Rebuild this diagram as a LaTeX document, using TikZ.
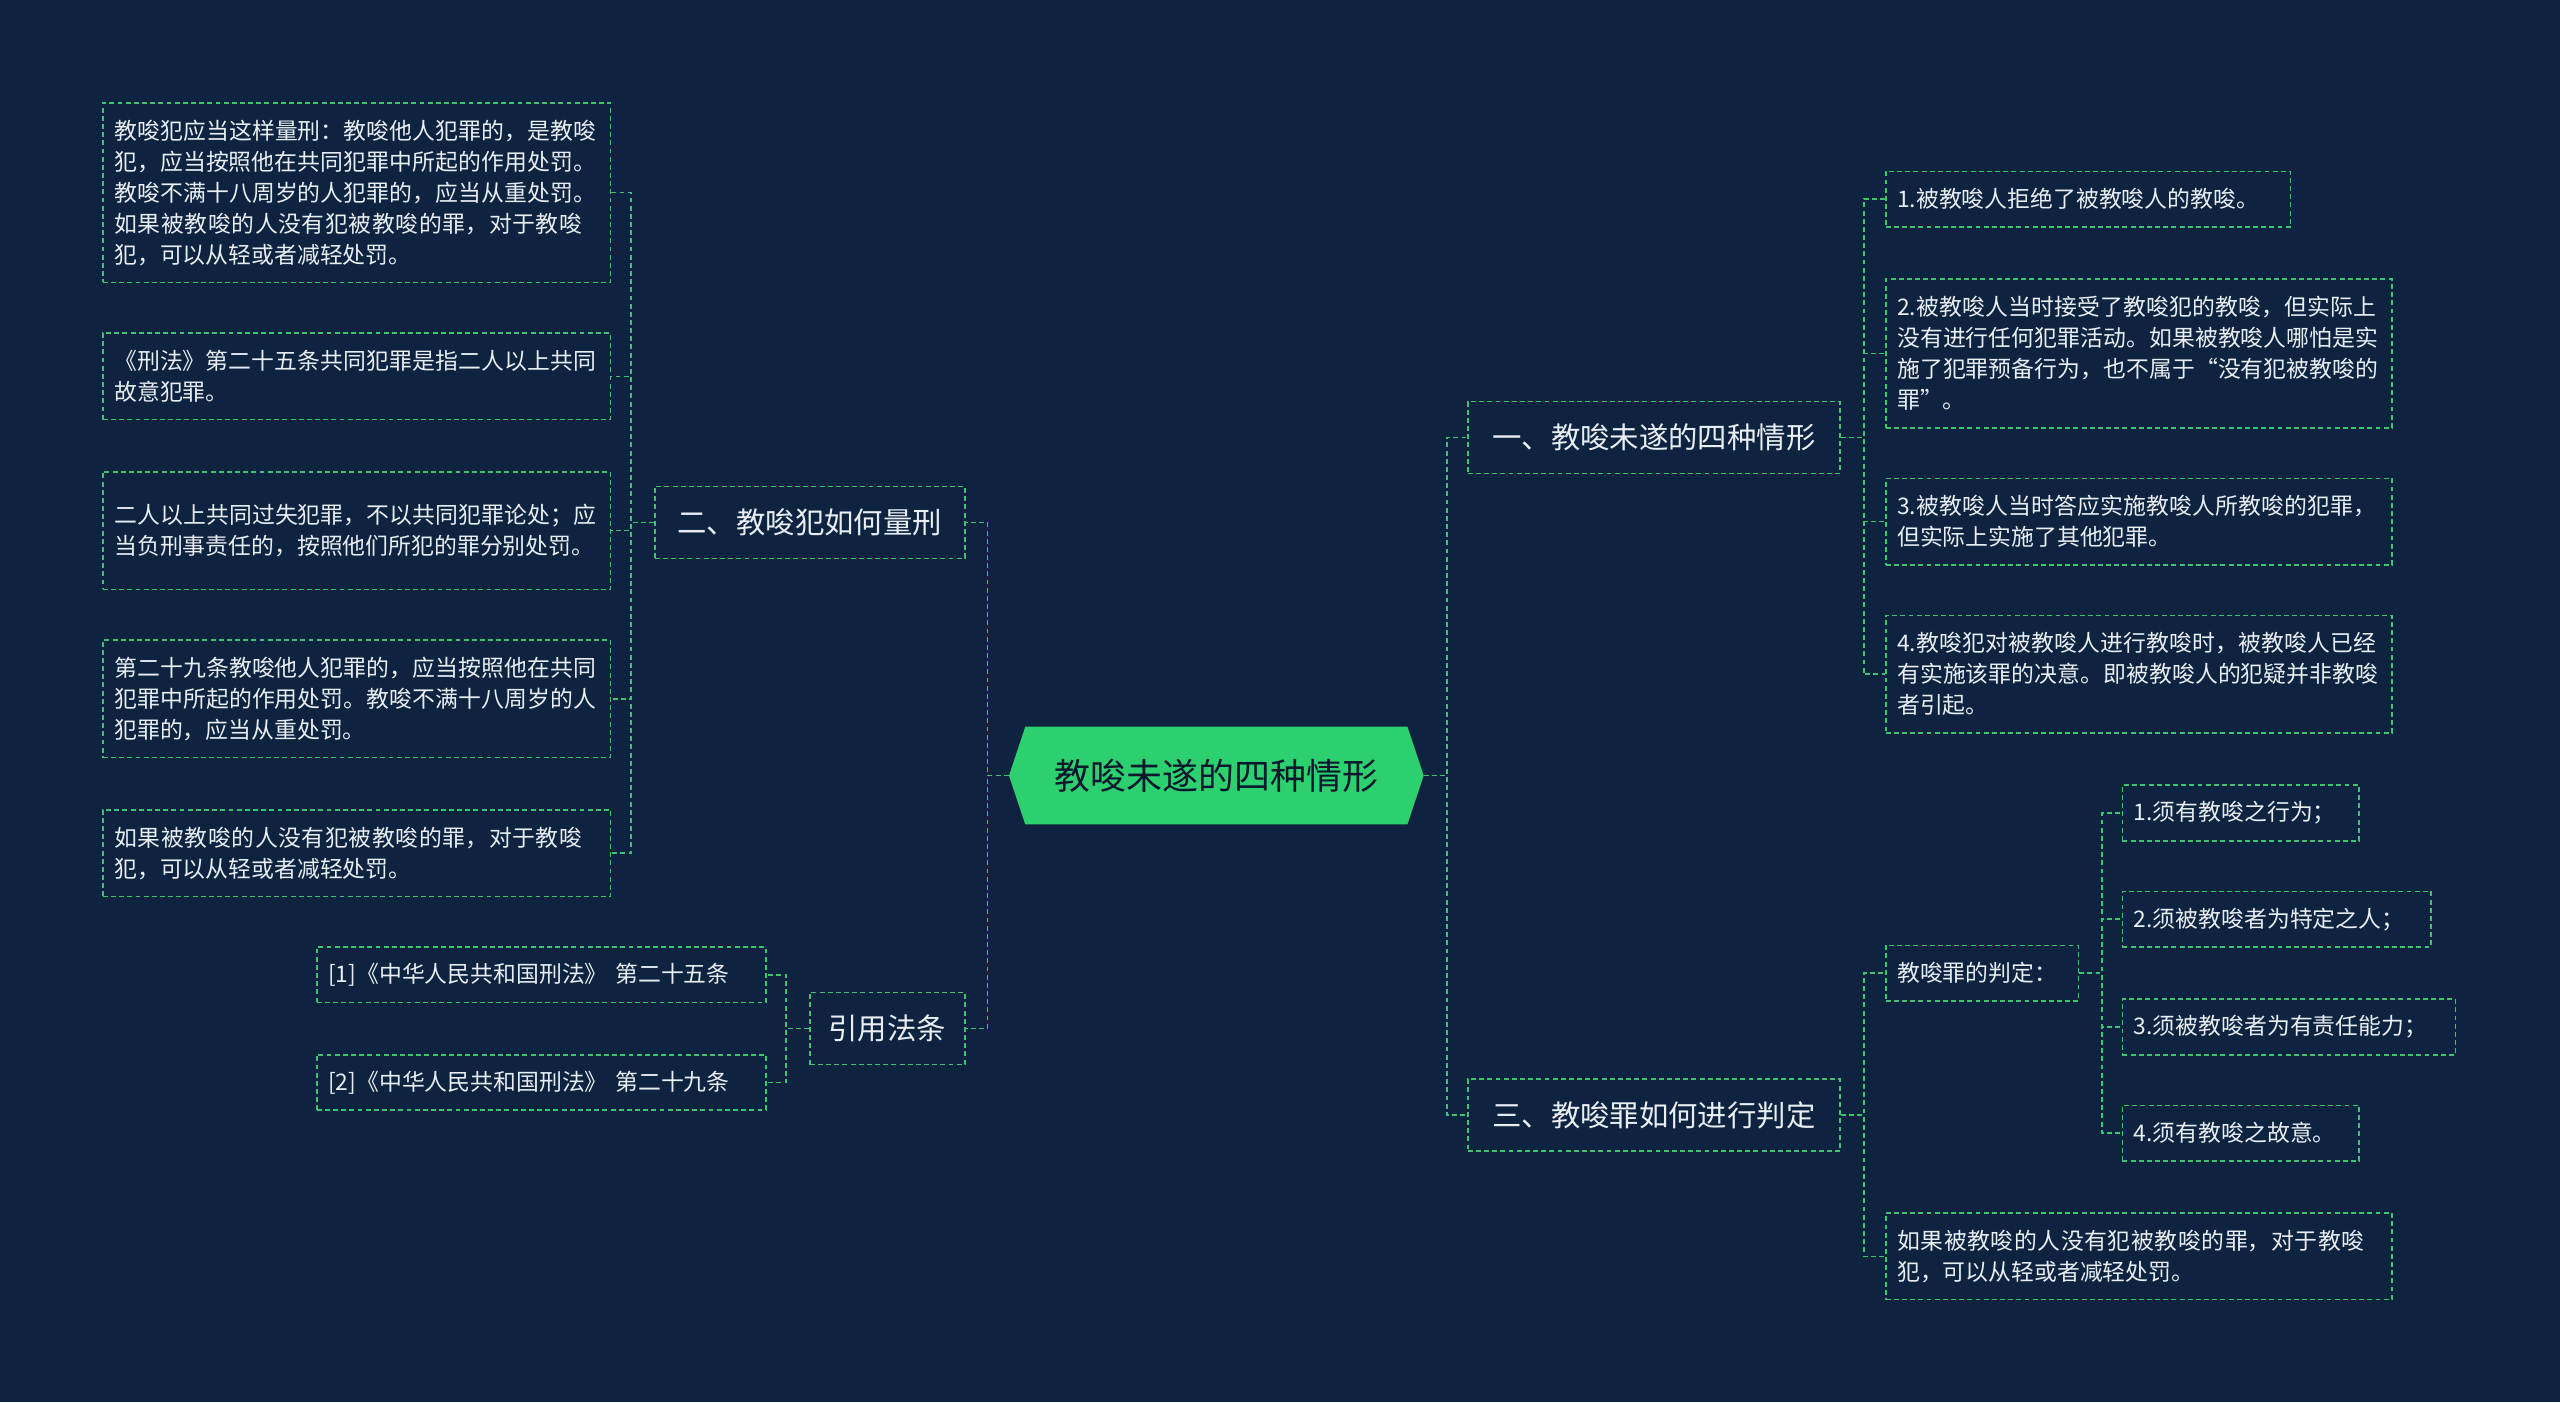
\documentclass[tikz,border=0pt]{standalone}
\usepackage{fontspec}
\setmainfont{Noto Sans CJK SC}
\XeTeXlinebreaklocale "zh"
\XeTeXlinebreakskip=0pt plus 1pt
\begin{document}
\begin{tikzpicture}[x=1pt,y=-1pt,
  line/.style={draw=lgreen,dashed,line width=1pt,dash pattern=on 3pt off 2pt},
  box/.style={line,text=txt,inner sep=0pt,align=left},
  leaf/.style={box,font=\fontsize{14}{19}\selectfont},
  mid/.style={box,font=\fontsize{18}{22}\selectfont,align=center}]
\definecolor{bg}{HTML}{0E2340}
\definecolor{lgreen}{HTML}{3CC46E}
\definecolor{rootg}{HTML}{2DD06E}
\definecolor{txt}{HTML}{E8EEF2}
\fill[bg] (0,0) rectangle (1568,859);
\useasboundingbox (0,0) rectangle (1568,859);
% root
\fill[rootg] (618,475)--(628,445)--(862,445)--(872,475)--(862,505)--(628,505)--cycle;
\node[minimum width=254,minimum height=60,inner sep=0pt,text=bg!70!black,font=\fontsize{22}{26}\selectfont] (root) at (745,475) {教唆未遂的四种情形};
% level 1
\node[mid,minimum width=228,minimum height=44] (A) at (1013,268) {一、教唆未遂的四种情形};
\node[mid,minimum width=228,minimum height=44] (B) at (1013,683) {三、教唆罪如何进行判定};
\node[mid,minimum width=190,minimum height=44] (C) at (496,320) {二、教唆犯如何量刑};
\node[mid,minimum width=95,minimum height=44] (D) at (543.5,630) {引用法条};
% A children
\node[leaf,minimum width=248,minimum height=34,text width=234] (a1) at (1279,122) {1.被教唆人拒绝了被教唆人的教唆。};
\node[leaf,minimum width=310,minimum height=91,text width=296] (a2) at (1310,216.5) {2.被教唆人当时接受了教唆犯的教唆，但实际上没有进行任何犯罪活动。如果被教唆人哪怕是实施了犯罪预备行为，也不属于“没有犯被教唆的罪”。};
\node[leaf,minimum width=310,minimum height=53,text width=296] (a3) at (1310,319.5) {3.被教唆人当时答应实施教唆人所教唆的犯罪，但实际上实施了其他犯罪。};
\node[leaf,minimum width=310,minimum height=72,text width=296] (a4) at (1310,413) {4.教唆犯对被教唆人进行教唆时，被教唆人已经有实施该罪的决意。即被教唆人的犯疑并非教唆者引起。};
% B children
\node[leaf,minimum width=118,minimum height=34,text width=104] (b1) at (1214,596) {教唆罪的判定：};
\node[leaf,minimum width=310,minimum height=53,text width=296] (b2) at (1310,769.5) {如果被教唆的人没有犯被教唆的罪，对于教唆犯，可以从轻或者减轻处罚。};
\node[leaf,minimum width=145,minimum height=34,text width=131] (c1) at (1372.5,498) {1.须有教唆之行为；};
\node[leaf,minimum width=189,minimum height=34,text width=175] (c2) at (1394.5,563) {2.须被教唆者为特定之人；};
\node[leaf,minimum width=204,minimum height=34,text width=190] (c3) at (1402,629) {3.须被教唆者为有责任能力；};
\node[leaf,minimum width=145,minimum height=34,text width=131] (c4) at (1372.5,694) {4.须有教唆之故意。};
% C children
\node[leaf,minimum width=311,minimum height=110,text width=297] (l1) at (218.5,118) {教唆犯应当这样量刑：教唆他人犯罪的，是教唆犯，应当按照他在共同犯罪中所起的作用处罚。教唆不满十八周岁的人犯罪的，应当从重处罚。如果被教唆的人没有犯被教唆的罪，对于教唆犯，可以从轻或者减轻处罚。};
\node[leaf,minimum width=311,minimum height=53,text width=297] (l2) at (218.5,230.5) {《刑法》第二十五条共同犯罪是指二人以上共同故意犯罪。};
\node[leaf,minimum width=311,minimum height=72,text width=297] (l3) at (218.5,325) {二人以上共同过失犯罪，不以共同犯罪论处；应当负刑事责任的，按照他们所犯的罪分别处罚。};
\node[leaf,minimum width=311,minimum height=72,text width=297] (l4) at (218.5,428) {第二十九条教唆他人犯罪的，应当按照他在共同犯罪中所起的作用处罚。教唆不满十八周岁的人犯罪的，应当从重处罚。};
\node[leaf,minimum width=311,minimum height=53,text width=297] (l5) at (218.5,522.5) {如果被教唆的人没有犯被教唆的罪，对于教唆犯，可以从轻或者减轻处罚。};
% D children
\node[leaf,minimum width=275,minimum height=34,text width=261] (d1) at (331.5,597) {[1]《中华人民共和国刑法》 第二十五条};
\node[leaf,minimum width=275,minimum height=34,text width=261] (d2) at (331.5,663) {[2]《中华人民共和国刑法》 第二十九条};
% connectors
\foreach \t in {A,B} \draw[line] (root.east) -- ++(14,0) |- (\t.west);
\foreach \t in {C,D} \draw[line] (root.west) -- ++(-13,0) |- (\t.east);
\foreach \t in {a1,a2,a3,a4} \draw[line] (A.east) -- ++(14,0) |- (\t.west);
\foreach \t in {b1,b2} \draw[line] (B.east) -- ++(14,0) |- (\t.west);
\foreach \t in {c1,c2,c3,c4} \draw[line] (b1.east) -- ++(14,0) |- (\t.west);
\foreach \t in {l1,l2,l3,l4,l5} \draw[line] (C.west) -- ++(-14,0) |- (\t.east);
\foreach \t in {d1,d2} \draw[line] (D.west) -- ++(-14,0) |- (\t.east);
\end{tikzpicture}
\end{document}
